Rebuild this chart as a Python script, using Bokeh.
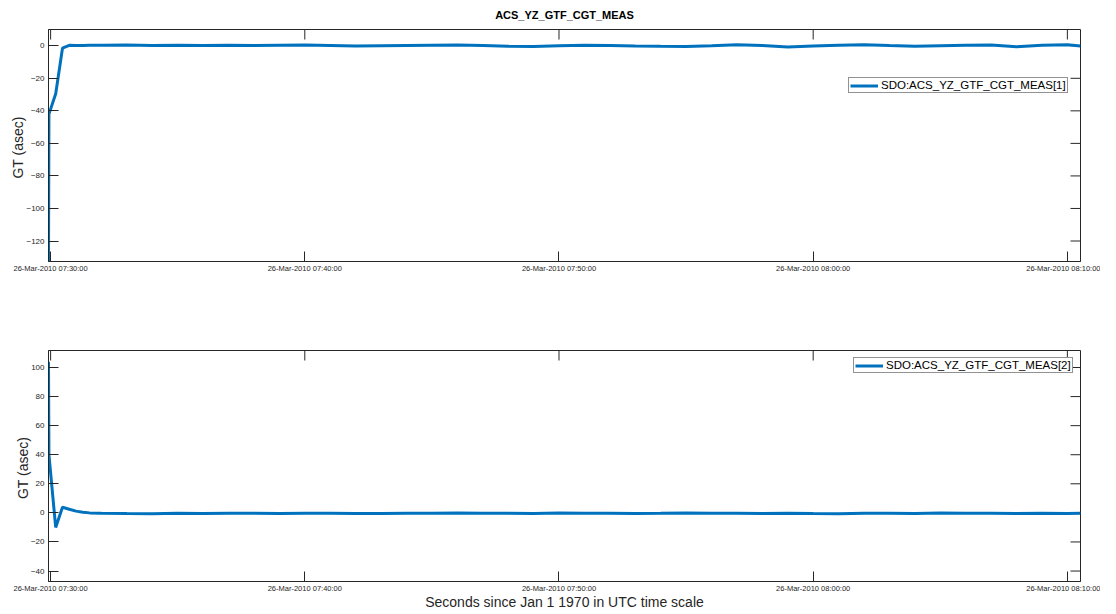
import pandas as pd
from bokeh.plotting import figure
from bokeh.models import Range1d, FixedTicker
from bokeh.layouts import column
from bokeh.embed import file_html
from bokeh.resources import INLINE

# ---------------- data ----------------
title_text = "ACS_YZ_GTF_CGT_MEAS"
base_time = "2010-03-26 07:30:00"
series_names = ["SDO:ACS_YZ_GTF_CGT_MEAS[1]", "SDO:ACS_YZ_GTF_CGT_MEAS[2]"]
y_label = "GT  (asec)"
x_label = "Seconds since Jan 1 1970 in UTC time scale"

# seconds after base_time
t_sec = [-5, -4, 12, 28, 44, 60, 76, 92, 120, 180, 240, 300, 360, 420, 480, 540,
         600, 660, 720, 780, 840, 900, 960, 1020, 1080, 1140, 1200, 1260, 1320,
         1380, 1440, 1500, 1560, 1620, 1680, 1740, 1800, 1860, 1920, 1980, 2040,
         2100, 2160, 2220, 2280, 2340, 2400, 2431]

meas1 = [-133.0, -42.0, -29.5, -1.5, 0.3, 0.2, 0.2, 0.3, 0.3, 0.4, 0.2, 0.3,
         0.1, 0.3, 0.2, 0.3, 0.4, 0.1, -0.2, 0.0, 0.2, 0.3, 0.4, 0.1, -0.3,
         -0.5, 0.0, 0.3, 0.2, -0.1, -0.3, -0.4, 0.0, 0.7, 0.2, -0.8, -0.2, 0.3,
         0.6, 0.1, -0.3, 0.0, 0.3, 0.5, -0.6, 0.3, 0.6, -0.2]

meas2 = [104.0, 40.0, -10.0, 3.9, 2.5, 1.2, 0.5, 0.0, -0.3, -0.5, -0.6, -0.3,
         -0.4, -0.3, -0.2, -0.4, -0.2, -0.3, -0.5, -0.4, -0.2, -0.3, -0.1, -0.3,
         -0.2, -0.4, -0.1, -0.3, -0.2, -0.4, -0.3, -0.1, -0.3, -0.2, -0.4, -0.2,
         -0.5, -0.6, -0.3, -0.2, -0.4, -0.1, -0.3, -0.2, -0.4, -0.3, -0.5, -0.2]

x_tick_labels = ["26-Mar-2010 07:30:00", "26-Mar-2010 07:40:00", "26-Mar-2010 07:50:00",
                 "26-Mar-2010 08:00:00", "26-Mar-2010 08:10:00"]
y_ticks_1 = [-120, -100, -80, -60, -40, -20, 0]
y_ticks_2 = [-40, -20, 0, 20, 40, 60, 80, 100]
y_range_1 = (-132.6, 10.0)
y_range_2 = (-47.2, 111.7)

# ---------------- derived ----------------
base = pd.Timestamp(base_time)
x_ticks = [(pd.to_datetime(s, format="%d-%b-%Y %H:%M:%S") - base).total_seconds()
           for s in x_tick_labels]
overrides = {x: s for x, s in zip(x_ticks, x_tick_labels)}

FONT = "Liberation Sans"
AX = "#262626"
BLUE = "#0072BD"
FRAME_W = 1032
TICK_PX = 10


def style_axis(ax, font_size="7.5px"):
    ax.axis_line_color = AX
    ax.axis_line_width = 1
    ax.major_tick_line_color = AX
    ax.major_tick_in = TICK_PX
    ax.major_tick_out = 0
    ax.minor_tick_line_color = None
    ax.major_label_text_font = FONT
    ax.major_label_text_font_size = font_size
    ax.major_label_text_color = AX
    ax.axis_label_text_font = FONT
    ax.axis_label_text_font_style = "normal"
    ax.axis_label_text_font_size = "14px"
    ax.axis_label_text_color = AX


def make_panel(y, name, yticks, yrange, frame_h, top_b, bot_b, leg_xy, title=None, xlab=None):
    x0, x1 = t_sec[0], t_sec[-1]
    p = figure(frame_width=FRAME_W, frame_height=frame_h,
               x_range=Range1d(x0, x1),
               y_range=Range1d(*yrange),
               output_backend="svg", toolbar_location=None,
               min_border_left=48, min_border_right=20,
               min_border_top=top_b, min_border_bottom=bot_b,
               background_fill_color="white", border_fill_color="white")
    p.outline_line_color = AX
    p.outline_line_width = 1
    p.xgrid.visible = False
    p.ygrid.visible = False
    y0, y1 = yrange
    if title:
        p.title.text = title
        p.title.align = "center"
        p.title.vertical_align = "top"
        p.title.text_font = FONT
        p.title.text_font_size = "11px"
        p.title.text_font_style = "bold"
        p.title.text_color = "black"
        p.title.standoff = 14
        p.title.offset = 0

    xa = p.xaxis[0]
    xa.ticker = FixedTicker(ticks=x_ticks)
    xa.major_label_overrides = overrides
    xa.major_label_standoff = 2
    if xlab:
        xa.axis_label = xlab
        xa.axis_label_standoff = -2
    style_axis(xa)

    ya = p.yaxis[0]
    ya.ticker = FixedTicker(ticks=yticks)
    ya.major_label_standoff = 4
    ya.axis_label = y_label
    ya.axis_label_standoff = -3
    style_axis(ya)
    ya.major_label_text_font_size = "8px"

    # inward ticks on the top and right sides of the box (MATLAB style)
    dy = (y1 - y0) * TICK_PX / frame_h
    dx = (x1 - x0) * TICK_PX / FRAME_W
    p.segment(x0=x_ticks, y0=[y1] * len(x_ticks), x1=x_ticks, y1=[y1 - dy] * len(x_ticks),
              line_color=AX, line_width=1)
    p.segment(x0=[x1] * len(yticks), y0=yticks, x1=[x1 - dx] * len(yticks), y1=yticks,
              line_color=AX, line_width=1)

    p.line(t_sec, y, line_color=BLUE, line_width=3, legend_label=name)
    lg = p.legend[0]
    lg.location = leg_xy
    lg.label_text_font = FONT
    lg.label_text_font_size = "11.5px"
    lg.label_text_color = "black"
    lg.border_line_color = AX
    lg.border_line_width = 1
    lg.background_fill_color = "white"
    lg.background_fill_alpha = 1
    lg.padding = 1
    lg.margin = 0
    lg.spacing = 0
    lg.glyph_width = 28
    lg.glyph_height = 9
    lg.label_height = 9
    lg.label_standoff = 3
    return p


p1 = make_panel(meas1, series_names[0], y_ticks_1, y_range_1, 232, 29, 60,
                (800, 168), title=title_text)
p2 = make_panel(meas2, series_names[1], y_ticks_2, y_range_2, 231, 29, 28,
                (805, 208), xlab=x_label)

layout = column(p1, p2, spacing=0)
open("out.html", "w").write(file_html(layout, INLINE))
